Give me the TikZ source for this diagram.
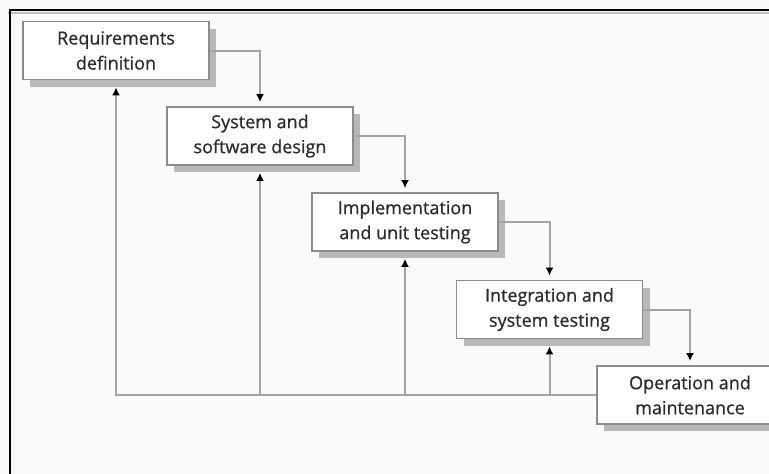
\documentclass[tikz,border=0pt]{standalone}
\usepackage{fontspec}
\setmainfont{Open Sans}
\newfontfamily\phasefont{Open Sans}[FakeBold=0.6,AutoFakeBold=0.6]
\usetikzlibrary{arrows.meta,shadows}
\definecolor{linegray}{HTML}{A4A4A4}
\definecolor{boxgray}{HTML}{8C8C8C}
\definecolor{textgray}{HTML}{2A2A2A}
\begin{document}
\begin{tikzpicture}[x=1pt,y=-1pt,
    phase/.style={draw=boxgray,line width=1.8pt,fill=white,minimum width=186pt,
      minimum height=58pt,align=center,text=textgray,
      font=\phasefont\bfseries\fontsize{18}{25}\selectfont,
      drop shadow={shadow xshift=7pt,shadow yshift=-7pt,fill=black!28,opacity=1}},
    flow/.style={draw=linegray,line width=2pt,-{Latex[black,length=8pt,width=8pt]}}]
                \clip (0,0) rectangle (769,474);
                \fill[white!98!black] (0,0) rectangle (769,474);
                \draw[black!25,line width=1.2pt] (8,13) -- (769,13);
                \draw[black,line width=2pt] (9.5,474) -- (9.5,10) -- (769,10);
                \node[phase] (req) at (116,50.5) {Requirements\\definition};
                \node[phase] (sys) at (260,136) {System and\\software design};
                \node[phase] (impl) at (405,222) {Implementation\\and unit testing};
                \node[phase] (integ) at (549.5,309.5) {Integration and\\system testing};
                \node[phase] (op) at (690,395) {Operation and\\maintenance};
                \draw[flow,shorten >=4pt] (req.east) -| (sys.north);
                \draw[flow,shorten >=4pt] (sys.east) -| (impl.north);
                \draw[flow,shorten >=4pt] (impl.east) -| (integ.north);
                \draw[flow,shorten >=4pt] (integ.east) -| (op.north);
                \draw[flow,shorten >=7pt] (op.west) -| (req.south);
                \draw[flow,shorten >=7pt] (sys.south |- op.west) -- (sys.south);
                \draw[flow,shorten >=7pt] (impl.south |- op.west) -- (impl.south);
                \draw[flow,shorten >=7pt] (integ.south |- op.west) -- (integ.south);
            \end{tikzpicture}
\end{document}
